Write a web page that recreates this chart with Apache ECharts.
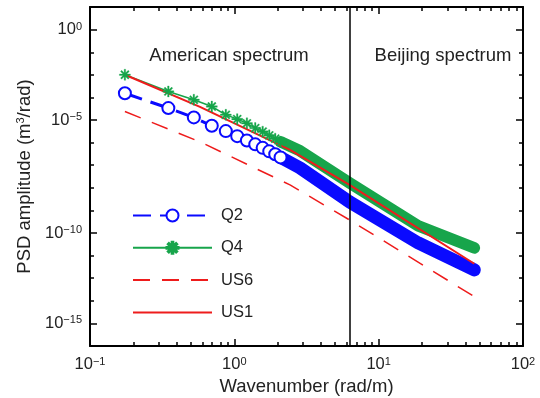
<!DOCTYPE html>
<html>
<head>
<meta charset="utf-8">
<script src="https://cdn.jsdelivr.net/npm/echarts@6/dist/echarts.min.js"></script>
<style>
html, body { margin: 0; background: #fff; }
#chart { width: 540px; height: 398px; }
</style>
</head>
<body>
<div id="chart"></div>
<script>
var chart = echarts.init(document.getElementById('chart'));

// wavenumber (rad/m) and PSD amplitude
var q2X = [0.1745, 0.349, 0.524, 0.698, 0.873, 1.047, 1.222, 1.396, 1.571, 1.745, 1.92, 2.09, 2.85, 6.28, 18.8, 46];
var q2Y = [5.65e-4, 9.9e-5, 3.3e-5, 1.23e-5, 6.6e-6, 3.65e-6, 2.2e-6, 1.39e-6, 9.2e-7, 6.1e-7, 4.3e-7, 3.0e-7, 8.7e-8, 1.6e-9, 1.27e-11, 5.3e-13];
var q4X = [0.1745, 0.349, 0.524, 0.698, 0.873, 1.047, 1.222, 1.396, 1.571, 1.745, 1.92, 2.09, 2.85, 6.28, 18.8, 46];
var q4Y = [4.99e-3, 6.98e-4, 2.63e-4, 1.19e-4, 4.49e-5, 2.7e-5, 1.65e-5, 9.4e-6, 6.2e-6, 4.0e-6, 2.72e-6, 1.87e-6, 6.5e-7, 1.49e-8, 9.4e-11, 7.1e-12];
var usX = [0.1745, 0.578, 2.43, 6.28, 46];
var us1Y = [5.0e-3, 1.15e-4, 7.3e-7, 1.18e-8, 1.1e-12];
var us6Y = [6.6e-5, 1.87e-6, 1.18e-8, 1.91e-10, 2.3e-14];
var splitX = 6.2832; // 2*pi, border between the two spectra

// tick marks and labels
var xMajor = [0.1, 1, 10, 100];
var xLabels = ['10{s|\u22121}', '10{s|0}', '10{s|1}', '10{s|2}'];
var xMinor = [0.2, 0.3, 0.4, 0.5, 0.6, 0.7, 0.8, 0.9, 2, 3, 4, 5, 6, 7, 8, 9, 20, 30, 40, 50, 60, 70, 80, 90];
var yMajorExp = [0, -4.615, -10.385, -15];
var yLabels = ['10{s|0}', '10{s|\u22125}', '10{s|\u221210}', '10{s|\u221215}'];
var yMinorExp = [-1.154, -2.308, -3.462, -5.769, -6.923, -8.077, -9.231, -11.538, -12.692, -13.846];

var FONT = 'Liberation Sans, Arial, sans-serif';
var BLUE = '#0a0aff', GREEN = '#17a54b', RED = '#ee1c1c';
var STAR = 'path://M-1.4,-10L1.4,-10L1.4,10L-1.4,10ZM-10,-1.4L10,-1.4L10,1.4L-10,1.4Z' +
    'M-6.01,-7.99L7.99,6.01L6.01,7.99L-7.99,-6.01ZM-7.99,6.01L6.01,-7.99L7.99,-6.01L-6.01,7.99Z';

// markers merge into a solid band past this index
var DENSE_FROM = 11;

function pts(xs, ys, from, hideFrom) {
    var res = [];
    for (var i = from || 0; i < xs.length; i++) {
        if (hideFrom != null && i > hideFrom) res.push({ value: [xs[i], ys[i]], symbol: 'none' });
        else res.push([xs[i], ys[i]]);
    }
    return res;
}
function pow10(arr) {
    return arr.map(function (e) { return Math.pow(10, e); });
}

var yMajor = pow10(yMajorExp);
var yMinor = pow10(yMinorExp);
var yMin = Math.pow(10, -16.16), yMax = Math.pow(10, 1.16);

function labelFor(values, texts) {
    return function (v) {
        for (var i = 0; i < values.length; i++) {
            if (Math.abs(Math.log10(v) - Math.log10(values[i])) < 1e-3) return texts[i];
        }
        return '';
    };
}

function logAxis(dim, pos, ticks, len, texts) {
    var ax = {
        type: 'log', logBase: 10, position: pos,
        min: dim === 'x' ? 0.1 : yMin,
        max: dim === 'x' ? 100 : yMax,
        axisLine: { show: !!texts, lineStyle: { color: '#000', width: 2 } },
        axisTick: { show: true, inside: true, length: len, customValues: ticks, lineStyle: { color: '#000', width: 1.5 } },
        splitLine: { show: false },
        minorTick: { show: false },
        axisLabel: { show: false }
    };
    if (texts && (pos === 'bottom' || pos === 'left')) {
        ax.axisLabel = {
            show: true, customValues: ticks, margin: pos === 'bottom' ? 10 : 8,
            color: '#222', fontSize: 16.5, fontFamily: FONT,
            formatter: labelFor(ticks, texts),
            rich: { s: { fontSize: 11, fontFamily: FONT, color: '#222', verticalAlign: 'top' } }
        };
    }
    return ax;
}

var xAxes = [
    logAxis('x', 'bottom', xMajor, 7, xLabels),
    logAxis('x', 'bottom', xMinor, 4),
    logAxis('x', 'top', xMajor, 7, xLabels),
    logAxis('x', 'top', xMinor, 4)
];
xAxes[0].name = 'Wavenumber (rad/m)';
xAxes[0].nameLocation = 'middle';
xAxes[0].nameGap = 31;
xAxes[0].nameTextStyle = { fontSize: 18.5, fontFamily: FONT, color: '#222' };

var yAxes = [
    logAxis('y', 'left', yMajor, 7, yLabels),
    logAxis('y', 'left', yMinor, 4),
    logAxis('y', 'right', yMajor, 7, yLabels),
    logAxis('y', 'right', yMinor, 4)
];
yAxes[0].name = 'PSD amplitude (m{s|3}/rad)';
yAxes[0].nameLocation = 'middle';
yAxes[0].nameRotate = 90;
yAxes[0].nameGap = 51;
yAxes[0].nameTextStyle = {
    fontSize: 18.5, fontFamily: FONT, color: '#222',
    rich: { s: { fontSize: 11, fontFamily: FONT, color: '#222', verticalAlign: 'top' } }
};

var noMarker = { color: 'rgba(0,0,0,0)', borderColor: 'rgba(0,0,0,0)', opacity: 0 };

var option = {
    animation: false,
    textStyle: { fontFamily: FONT },
    grid: { left: 90, top: 7, width: 433, height: 339, outerBoundsMode: 'none', containLabel: false },
    xAxis: xAxes,
    yAxis: yAxes,
    legend: {
        data: ['Q2', 'Q4', { name: 'US6', itemStyle: noMarker }, { name: 'US1', itemStyle: noMarker }],
        orient: 'vertical',
        left: 132, top: 207,
        padding: 0,
        itemWidth: 79, itemHeight: 15, itemGap: 15.3,
        textStyle: { fontSize: 16.5, color: '#222', fontFamily: FONT, padding: [0, 0, 0, 4] }
    },
    graphic: [
        { type: 'text', x: 229, y: 56, style: { text: 'American spectrum', fontSize: 18.5, fontFamily: FONT, fill: '#222', align: 'center', verticalAlign: 'middle' } },
        { type: 'text', x: 443, y: 56, style: { text: 'Beijing spectrum', fontSize: 18.5, fontFamily: FONT, fill: '#222', align: 'center', verticalAlign: 'middle' } }
    ],
    series: [
        {
            name: 'Q2', type: 'line', data: pts(q2X, q2Y, 0, DENSE_FROM),
            symbol: 'emptyCircle', symbolSize: 12,
            itemStyle: { color: BLUE, borderWidth: 2.8 },
            lineStyle: { color: BLUE, width: 3, type: [18, 9] }
        },
        {
            name: 'Q2 dense', type: 'line', data: pts(q2X, q2Y, DENSE_FROM),
            showSymbol: false, symbol: 'none',
            lineStyle: { color: BLUE, width: 13, cap: 'round', join: 'round' }
        },
        {
            name: 'Q4', type: 'line', data: pts(q4X, q4Y, 0, DENSE_FROM),
            symbol: STAR, symbolSize: 11,
            itemStyle: { color: GREEN, borderColor: GREEN, borderWidth: 0.3 },
            lineStyle: { color: GREEN, width: 1.5 }
        },
        {
            name: 'Q4 dense', type: 'line', data: pts(q4X, q4Y, DENSE_FROM),
            showSymbol: false, symbol: 'none',
            lineStyle: { color: GREEN, width: 11.5, cap: 'round', join: 'round' }
        },
        {
            name: 'US6', type: 'line', data: pts(usX, us6Y),
            symbol: 'none', itemStyle: { color: RED },
            lineStyle: { color: RED, width: 1.5, type: [17, 12] }
        },
        {
            name: 'US1', type: 'line', data: pts(usX, us1Y),
            symbol: 'none', itemStyle: { color: RED },
            lineStyle: { color: RED, width: 2 },
            markLine: {
                silent: true, symbol: 'none',
                label: { show: false },
                lineStyle: { color: '#000', width: 1.5, type: 'solid' },
                data: [{ xAxis: splitX }]
            }
        }
    ]
};

chart.setOption(option);
</script>
</body>
</html>
